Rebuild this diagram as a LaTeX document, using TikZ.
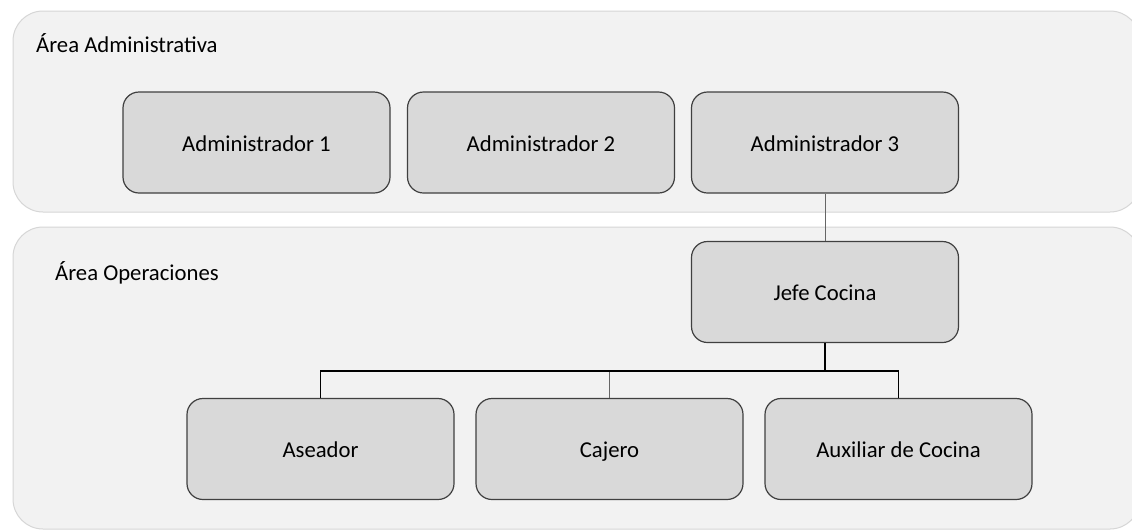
\documentclass[tikz,border=0pt]{standalone}
\usepackage{fontspec}
\setmainfont{Carlito}
\definecolor{areafill}{HTML}{F2F2F2}
\definecolor{areadraw}{HTML}{D6D6D6}
\definecolor{boxfill}{HTML}{D9D9D9}
\definecolor{boxdraw}{HTML}{404040}
\tikzset{
  area/.style={fill=areafill, draw=areadraw, line width=1pt, rounded corners=30pt},
  role/.style={fill=boxfill, draw=boxdraw, line width=1.2pt, rounded corners=16pt,
    minimum width=267pt, minimum height=101pt, inner sep=0pt,
    text height=17pt, text depth=0pt,
    font=\fontsize{22.7}{27}\selectfont},
  arealabel/.style={anchor=base west, inner sep=0pt, font=\fontsize{22.7}{27}\selectfont},
  thin/.style={draw=gray!80!black, line width=0.8pt},
  thick/.style={draw=black, line width=1.8pt}
}
\begin{document}
\begin{tikzpicture}[x=1pt,y=-1pt]
\useasboundingbox (0,0) rectangle (1132,531);
\fill[white] (0,0) rectangle (1132,531);
\path[area] (13,11) rectangle (1140,212);
\path[area] (13,227) rectangle (1140,529);
\node[arealabel] (la) at (36,52) {Área Administrativa};
\node[arealabel] (lo) at (55,280) {Área Operaciones};
\node[role] (a1) at (256.5,142.5) {Administrador 1};
\node[role] (a2) at (541,142.5) {Administrador 2};
\node[role] (a3) at (825,142.5) {Administrador 3};
\node[role] (jc) at (825,292) {Jefe Cocina};
\node[role] (as) at (320.5,449) {Aseador};
\node[role] (ca) at (609.5,449) {Cajero};
\node[role] (au) at (898.5,449) {Auxiliar de Cocina};
\coordinate (bar) at (0,371);
\draw[thin] (a3.south) -- (jc.north);
\draw[thin] (ca.north) -- (ca.north |- bar);
\draw[thick] (jc.south) -- (jc.south |- bar);
\draw[thick, line join=miter] (as.north) -- (as.north |- bar) -- (au.north |- bar) -- (au.north);
\end{tikzpicture}
\end{document}
